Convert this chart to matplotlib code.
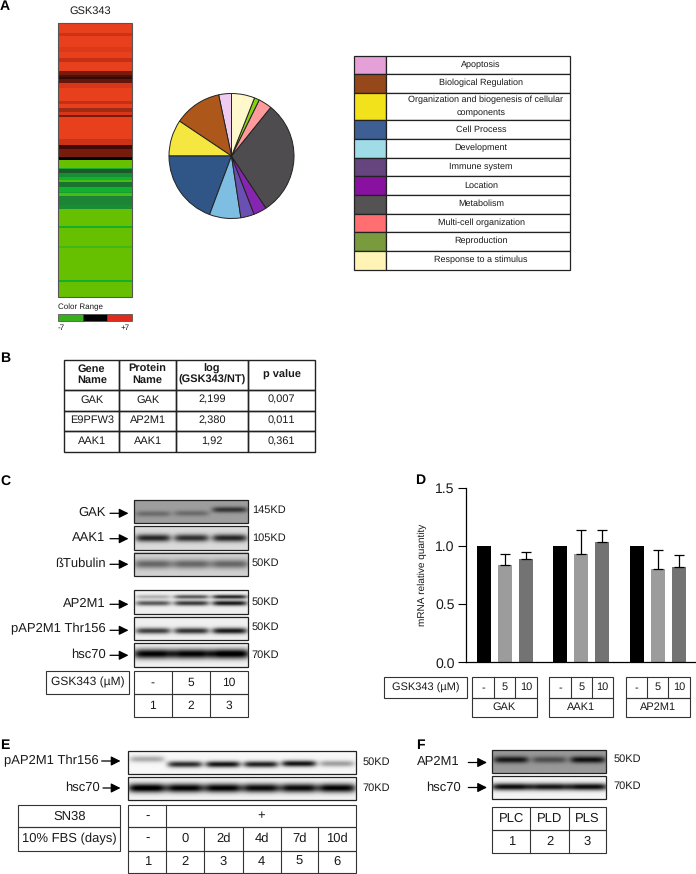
import numpy as np
import matplotlib
matplotlib.use("Agg")
import matplotlib.pyplot as plt
from matplotlib.colors import LinearSegmentedColormap

plt.rcParams["font.family"] = ["Liberation Sans", "DejaVu Sans"]
plt.rcParams["text.hinting"] = "no_hinting"
plt.rcParams["text.hinting_factor"] = 1

W, H = 696, 874

# Panel A: heatmap rows, thickness in 1/3 px, log ratio
heat_rows = [30, 10, 32, 16, 17, 13, 26, 13, 5, 8, 10, 16, 40, 8, 13, 12, 7, 8, 66, 16, 14, 24, 8,
             23, 4, 12, 12, 9, 7, 14, 14, 4, 8, 28, 12, 50, 8, 54, 5, 95, 7, 46]
heat_vals = [7, 5.5, 7, 6.3, 7, 5, 7, 2.5, 1.5, 1, 2, 6, 7, 5, 7, 3.5, 6, 2.5, 7, 5.5, 1.2, 2.5, 0,
             -7, -5, -1.8, -3.5, -5.5, -6.5, -2.5, -5.5, -4.5, -6.5, -3, -3.5, -7, -5.5, -7, -6.3, -7, -5.5, -7]
color_range = [-7, 0, 7]
color_range_colors = ["#38B01C", "#000000", "#E02A1C"]

# Panel A: pie and legend
go_terms = ["Apoptosis", "Biological Regulation", "Organization and biogenesis of cellular\ncomponents",
            "Cell Process", "Development", "Immune system", "Location", "Metabolism",
            "Multi-cell organization", "Reproduction", "Response to a stimulus"]
go_share = [3.3, 12.3, 9.4, 19.3, 8.1, 3.5, 3.4, 29.9, 3.5, 1.3, 6.0]
pie_colors = ["#EECCF2", "#AE571B", "#F5E640", "#305687", "#7DBEE2", "#6A50B0", "#8525B0", "#4E4C4E",
              "#FF9A9C", "#88D010", "#FFF8CC"]
legend_colors = ["#E6A0D8", "#96481A", "#F2E21C", "#3E5F94", "#A0DCE8", "#66457F", "#8811A0", "#555254",
                 "#FF6E70", "#7A9A3E", "#FFF4B5"]

# Panel B
table_b = [["Gene\nName", "Protein\nName", "log\n(GSK343/NT)", "p value"],
           ["GAK", "GAK", "2,199", "0,007"],
           ["E9PFW3", "AP2M1", "2,380", "0,011"],
           ["AAK1", "AAK1", "1,92", "0,361"]]

# Panel D
genes = ["GAK", "AAK1", "AP2M1"]
doses = ["-", "5", "10"]
mrna_mean = [[1.0, 0.84, 0.89], [1.0, 0.93, 1.03], [1.0, 0.80, 0.82]]
mrna_top = [[1.0, 0.93, 0.95], [1.0, 1.14, 1.14], [1.0, 0.965, 0.925]]
bar_colors = ["#000000", "#9C9C9C", "#737373"]

# Blot band strengths per lane
gak_bands = [0.2, 0.2, 0.42]
aak1_bands = [0.72, 0.68, 0.72]
tub_bands = [0.42, 0.42, 0.42]
ap2m1_bands = [0.6, 0.72, 0.85]
ap2m1_upper = [0.25, 0.6, 0.8]
pap2m1_bands = [0.7, 0.75, 0.85]
hsc_bands = [0.95, 0.95, 1.0]
e_pap_bands = [0.3, 0.8, 0.9, 0.85, 0.9, 0.35]
e_hsc_bands = [1.0, 0.95, 0.95, 0.92, 0.92, 0.95]
f_ap_bands = [0.52, 0.3, 0.55]
f_hsc_bands = [0.92, 0.88, 0.92]

LINE = "#333333"
cmap = LinearSegmentedColormap.from_list("heat", [
    (0.0, "#66C000"), (1.5 / 14, "#10B030"), (4 / 14, "#1B8535"), (5.5 / 14, "#1B4F28"), (0.5, "#000000"),
    (8.5 / 14, "#4E0F08"), (10.5 / 14, "#A02A12"), (12.5 / 14, "#CE3216"), (1.0, "#E83F1C")])

fig = plt.figure(figsize=(W / 100, H / 100), dpi=100)
page = fig.add_axes([0, 0, 1, 1])
page.set_xlim(0, W)
page.set_ylim(H, 0)
page.axis("off")
page.autoscale(False)


def label(x, y, s, size=7, ha="center", **kw):
    page.text(x, y, s, fontsize=size, ha=ha, va="center", color="#1a1a1a", **kw)


def box(x0, y0, x1, y1, **kw):
    kw.setdefault("fc", "none")
    page.add_patch(plt.Rectangle((x0, y0), x1 - x0, y1 - y0, ec=LINE, lw=0.8, **kw))


def grid(xs, ys, texts, size=7.5):
    # row of cells: xs are column edges, ys row top/bottom
    box(xs[0], ys[0], xs[-1], ys[1])
    for x in xs[1:-1]:
        page.plot([x, x], ys, color=LINE, lw=0.8)
    for a, b, s in zip(xs[:-1], xs[1:], texts):
        label((a + b) / 2, (ys[0] + ys[1]) / 2, s, size=size)


def blot(x0, y0, x1, y1, bands, bg=0.93, yc=0.5, th=0.13, upper=None, spread=0.46):
    ny, nx = int((y1 - y0) * 3), int((x1 - x0) * 3)
    v, u = np.mgrid[0:1:ny * 1j, 0:1:nx * 1j]
    img = np.full((ny, nx), float(bg))
    n = len(bands)
    ycs = yc if np.ndim(yc) else [yc] * n
    for i, s in enumerate(bands):
        prof = np.exp(-(((u - (i + 0.5) / n) * n / spread) ** 6))
        img -= s * prof * np.exp(-(((v - ycs[i]) / th) ** 2))
        if upper is not None:
            img -= upper[i] * prof * np.exp(-(((v - ycs[i] + 0.27) / (th * 0.8)) ** 2))
    page.imshow(np.clip(img, 0, 1), cmap="gray", vmin=0, vmax=1, extent=(x0, x1, y1, y0),
                aspect="auto", interpolation="bilinear", zorder=1)
    page.add_patch(plt.Rectangle((x0, y0), x1 - x0, y1 - y0, ec="#222222", fc="none", lw=0.9, zorder=2))


def arrow(x0, x1, y):
    page.annotate("", xy=(x1, y), xytext=(x0, y),
                  arrowprops=dict(arrowstyle="-|>", color="black", lw=0.9, mutation_scale=14,
                                  shrinkA=0, shrinkB=0))


# panel letters
for s, x, y in [("A", 5, 6), ("B", 5, 358), ("C", 5, 481), ("D", 420, 480), ("E", 5, 745), ("F", 420, 745)]:
    page.text(x, y, s, fontsize=10, fontweight="bold", ha="center", va="center", color="black")

# --- A: heatmap
label(90, 11, "GSK343", size=8)
edges = 22.7 + np.concatenate([[0], np.cumsum(heat_rows)]) / 3
page.pcolormesh([57.7, 131.5], edges, np.array(heat_vals)[:, None], cmap=cmap, vmin=-7, vmax=7, zorder=1)
page.add_patch(plt.Rectangle((57.7, 22.7), 73.8, edges[-1] - 22.7, ec="#555555", fc="none", lw=0.8, zorder=2))

label(57.7, 307, "Color Range", size=5.8, ha="left")
for (a, b), c in zip([(57.5, 82.7), (82.7, 107.3), (107.3, 131.7)], color_range_colors):
    page.add_patch(plt.Rectangle((a, 313.7), b - a, 7.6, fc=c, ec="#444444", lw=0.5))
label(57.7, 328, f"{color_range[0]}", size=5.8, ha="left")
label(130, 328, f"+{color_range[2]}", size=5.8, ha="right")

# --- A: pie
r = 62.5 * 1.04
pie_ax = fig.add_axes([(231.5 - r) / W, 1 - (156 + r) / H, 2 * r / W, 2 * r / H])
pie_ax.pie(go_share, colors=pie_colors, startangle=90, counterclock=True,
           wedgeprops=dict(edgecolor="#222222", linewidth=0.7))
pie_ax.set_xlim(-1.04, 1.04)
pie_ax.set_ylim(-1.04, 1.04)

# --- A: legend
leg_y = [55.7, 74.3, 93, 120.3, 139, 157.7, 176.3, 195, 213.7, 232.3, 251, 269.7]
for i, term in enumerate(go_terms):
    page.add_patch(plt.Rectangle((354, leg_y[i]), 32.3, leg_y[i + 1] - leg_y[i], fc=legend_colors[i],
                                 ec="#222222", lw=0.9))
    page.add_patch(plt.Rectangle((386.3, leg_y[i]), 183.7, leg_y[i + 1] - leg_y[i], fc="white",
                                 ec="#222222", lw=0.9))
    mid = (leg_y[i] + leg_y[i + 1]) / 2 - 0.5
    if "\n" in term:
        # the wrapped row is not centred on its first line
        first, second = term.split("\n")
        label(486, mid - 6, first, size=6.75)
        label(481, mid + 6.5, second, size=6.75)
    else:
        label(481, mid, term, size=6.75)

# --- B: table
bx = [64.3, 119.3, 176, 247.7, 315.3]
by = [360, 390, 410.7, 431.3, 452.3]
for j, row in enumerate(table_b):
    for i, s in enumerate(row):
        page.add_patch(plt.Rectangle((bx[i], by[j]), bx[i + 1] - bx[i], by[j + 1] - by[j], fc="none",
                                     ec="#222222", lw=1.0))
        label((bx[i] + bx[i + 1]) / 2, (by[j] + by[j + 1]) / 2 - 0.5, s, size=7.6,
              fontweight="bold" if j == 0 else "normal", linespacing=1.15)

# --- C: blots
c_rows = [("GAK", "145KD", 500.3, 523.3, 512.3, 510.3),
          ("AAK1", "105KD", 526.3, 550, 537.7, 538.3),
          ("ßTubulin", "50KD", 552.7, 576, 563.3, 563.3),
          ("AP2M1", "50KD", 590.3, 613.7, 603.3, 602.3),
          ("pAP2M1 Thr156", "50KD", 616.7, 640, 629.3, 627.3),
          ("hsc70", "70KD", 643.3, 666.7, 654.3, 655)]
blot(133.7, 500.3, 248, 523.3, gak_bands, bg=0.62, yc=[0.6, 0.58, 0.42], th=0.13)
blot(133.7, 526.3, 248, 550, aak1_bands, bg=0.86, th=0.16)
blot(133.7, 552.7, 248, 576, tub_bands, bg=0.82, th=0.19, spread=0.5)
blot(133.7, 590.3, 248, 613.7, ap2m1_bands, bg=0.94, yc=0.55, th=0.11, upper=ap2m1_upper)
blot(133.7, 616.7, 248, 640, pap2m1_bands, bg=0.94, yc=0.62, th=0.13)
blot(133.7, 643.3, 248, 666.7, hsc_bands, bg=0.95, yc=0.45, th=0.21, spread=0.52)
for name, kd, y0, y1, ty, ky in c_rows:
    label(105.3, ty, name, size=9.5, ha="right")
    arrow(110, 128.5, ty + 1)
    label(251.7, ky, kd, size=7.7, ha="left")

grid([133.7, 171.7, 209.7, 248], [671.3, 694], doses, size=8.8)
grid([133.7, 171.7, 209.7, 248], [694, 717.3], ["1", "2", "3"], size=8.8)
grid([46.3, 128.7], [671.3, 694], ["GSK343 (µM)"], size=8.6)

# --- D: bars
ax_l, ax_r, ax_t, ax_b = 466.3, 696, 487.7, 662.3
bar_ax = fig.add_axes([ax_l / W, 1 - ax_b / H, (ax_r - ax_l) / W, (ax_b - ax_t) / H])
bar_ax.patch.set_alpha(0)
for g, (means, tops) in enumerate(zip(mrna_mean, mrna_top)):
    x = 17.4 + g * 76.5 + np.arange(3) * 21
    bar_ax.bar(x, means, width=14, color=bar_colors, zorder=2)
    lo = np.zeros(3)
    hi = np.array(tops) - np.array(means)
    bar_ax.errorbar(x[1:], means[1:], yerr=[lo[1:], hi[1:]], fmt="none", ecolor="black",
                    elinewidth=0.9, capsize=3.6, capthick=0.9, zorder=3)
bar_ax.set_xlim(0, ax_r - ax_l)
bar_ax.set_ylim(0, 1.5)
bar_ax.set_xticks([])
bar_ax.set_yticks([0, 0.5, 1.0, 1.5])
bar_ax.set_yticklabels(["0.0", "0.5", "1.0", "1.5"], fontsize=10.2, color="#1a1a1a")
bar_ax.tick_params(axis="y", length=5.5, width=0.8, pad=3)
bar_ax.set_ylabel("mRNA relative quantity", fontsize=7.1, labelpad=6, color="#1a1a1a")
for side in ["top", "right", "bottom"]:
    bar_ax.spines[side].set_visible(False)
bar_ax.spines["left"].set_linewidth(0.9)
# broken baseline between the gene groups
for a, b in [(0, 70), (71, 83), (84, 147), (148, 160), (161, 229.7)]:
    bar_ax.plot([a, b], [0, 0], color="black", lw=0.9, clip_on=False, zorder=4)

grid([384, 466.7], [677.3, 697.7], ["GSK343 (µM)"], size=8.2)
for xs, gene in zip([[472, 494, 515.3, 536.5], [549.3, 570.7, 591.7, 613.3], [625.7, 647.3, 668.3, 690]], genes):
    grid(xs, [677.3, 697.7], doses, size=8.2)
    grid([xs[0], xs[-1]], [697.7, 717.3], [gene], size=8.2)

# --- E
blot(128.3, 750.7, 356.3, 773.7, e_pap_bands, bg=0.97, yc=[0.35, 0.58, 0.58, 0.58, 0.55, 0.55], th=0.14)
blot(128.3, 777.3, 356.3, 800, e_hsc_bands, bg=0.95, yc=0.48, th=0.2, spread=0.5)
label(98.7, 761, "pAP2M1 Thr156", size=9.4, ha="right")
label(100, 788, "hsc70", size=9.4, ha="right")
arrow(101.7, 120.5, 761)
arrow(103, 120.5, 788)
label(362.7, 762, "50KD", size=7.7, ha="left")
label(362.7, 788.5, "70KD", size=7.7, ha="left")

ecols = [128.3, 166.3, 204.3, 242.7, 280.7, 318.3, 356.3]
grid([ecols[0], ecols[1], ecols[-1]], [805, 827.3], ["-", "+"], size=9)
grid(ecols, [827.3, 850.7], ["-", "0", "2d", "4d", "7d", "10d"], size=9)
grid(ecols, [850.7, 873.3], ["1", "2", "3", "4", "5", "6"], size=9)
grid([18.3, 120.3], [805, 827.3], ["SN38"], size=9.2)
grid([18.3, 120.3], [827.3, 850.7], ["10% FBS (days)"], size=9.2)

# --- F
blot(492, 750.3, 606.3, 773.3, f_ap_bands, bg=0.6, yc=0.42, th=0.15)
blot(492, 776.3, 606.3, 799.3, f_hsc_bands, bg=0.96, yc=0.47, th=0.16, spread=0.52)
label(459.5, 761.7, "AP2M1", size=9.4, ha="right")
label(460.7, 787.3, "hsc70", size=9.4, ha="right")
arrow(468.3, 487, 762.5)
arrow(468.3, 487, 787.5)
label(613.3, 759, "50KD", size=7.7, ha="left")
label(613.3, 786.3, "70KD", size=7.7, ha="left")
fcols = [492, 530.3, 568.7, 606.3]
grid(fcols, [807, 830.3], ["PLC", "PLD", "PLS"], size=9.4)
grid(fcols, [830.3, 852.7], ["1", "2", "3"], size=9)

fig.savefig("out.png", dpi=100)
